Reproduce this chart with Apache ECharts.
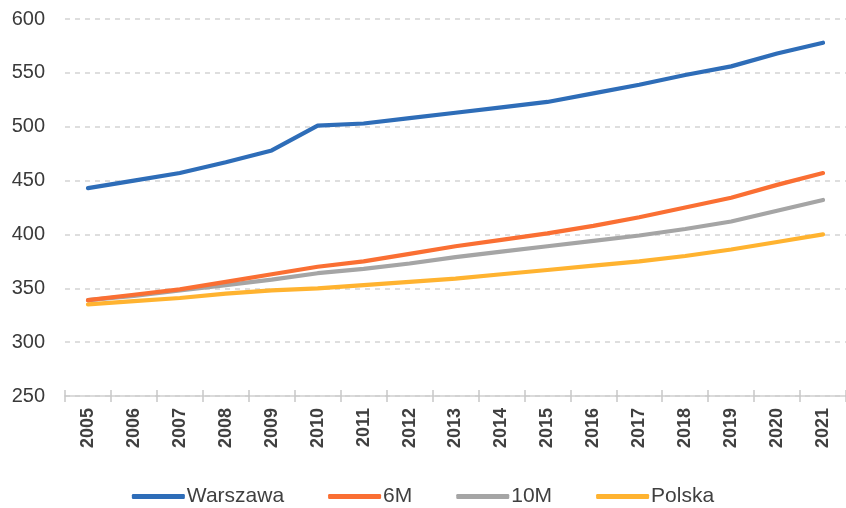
<!DOCTYPE html>
<html>
<head>
<meta charset="utf-8">
<script src="https://cdn.jsdelivr.net/npm/echarts@6/dist/echarts.min.js"></script>
<style>
html,body{margin:0;padding:0;background:#fff;}
#chart{width:846px;height:508px;}
</style>
</head>
<body>
<div id="chart"></div>
<script>
var years = ['2005','2006','2007','2008','2009','2010','2011','2012','2013','2014','2015','2016','2017','2018','2019','2020','2021'];
var warszawa = [443, 450, 457, 467, 478, 501, 503, 508, 513, 518, 523, 531, 539, 548, 556, 568, 578];
var m6 = [339, 344, 349, 356, 363, 370, 375, 382, 389, 395, 401, 408, 416, 425, 434, 446, 457];
var m10 = [339, 343, 348, 353, 358, 364, 368, 373, 379, 384, 389, 394, 399, 405, 412, 422, 432];
var polska = [335, 338, 341, 345, 348, 350, 353, 356, 359, 363, 367, 371, 375, 380, 386, 393, 400];
var yTicks = [250, 300, 350, 400, 450, 500, 550, 600];

var colors = ['#2E6DB8', '#FA6F33', '#A5A5A5', '#FFB330'];
var names = ['Warszawa', '6M', '10M', 'Polska'];
var datas = [warszawa, m6, m10, polska];

var chart = echarts.init(document.getElementById('chart'), null, {renderer: 'canvas'});
var series = names.map(function(n, i){
  return {
    name: n, type: 'line', data: datas[i], xAxisIndex: 0,
    smooth: false, symbol: 'none',
    lineStyle: {color: colors[i], width: 4.2, cap: 'round', join: 'round'},
    itemStyle: {color: colors[i]},
    z: 10 - i
  };
});
chart.setOption({
  animation: false,
  color: colors,
  grid: {left: 65, right: 0, top: 19, bottom: 112, containLabel: false},
  legend: {
    data: names, top: 481, left: 'center',
    itemWidth: 53, itemHeight: 5, itemGap: 44,
    icon: 'roundRect',
    textStyle: {fontFamily: 'Liberation Sans, Arial, sans-serif', fontSize: 21, color: '#404040', padding: [0,0,0,-3]}
  },
  xAxis: [{
    type: 'category', data: years, boundaryGap: true,
    axisLine: {show: true, lineStyle: {color: '#D0D0D0', width: 1.5}},
    axisTick: {show: true, interval: 0, length: 6, lineStyle: {color: '#C8C8C8', width: 1.5}},
    axisLabel: {interval: 0, rotate: 90, margin: 12, fontFamily: 'Liberation Sans, Arial, sans-serif', fontSize: 18, fontWeight: 'bold', color: '#404040'},
    splitLine: {show: false}
  }, {
    type: 'category', data: years, boundaryGap: true, position: 'bottom',
    axisLine: {show: false},
    axisTick: {show: true, inside: true, interval: 0, length: 6, lineStyle: {color: '#C8C8C8', width: 1.5}},
    axisLabel: {show: false},
    splitLine: {show: false}
  }],
  yAxis: {
    type: 'value', min: yTicks[0], max: yTicks[yTicks.length-1], interval: 50,
    axisLine: {show: false}, axisTick: {show: false},
    axisLabel: {margin: 20, fontFamily: 'Liberation Sans, Arial, sans-serif', fontSize: 20, color: '#3A3A3A'},
    splitLine: {show: true, lineStyle: {color: '#D3D3D3', width: 1.5, type: [5, 5]}}
  },
  series: series
});
</script>
</body>
</html>
